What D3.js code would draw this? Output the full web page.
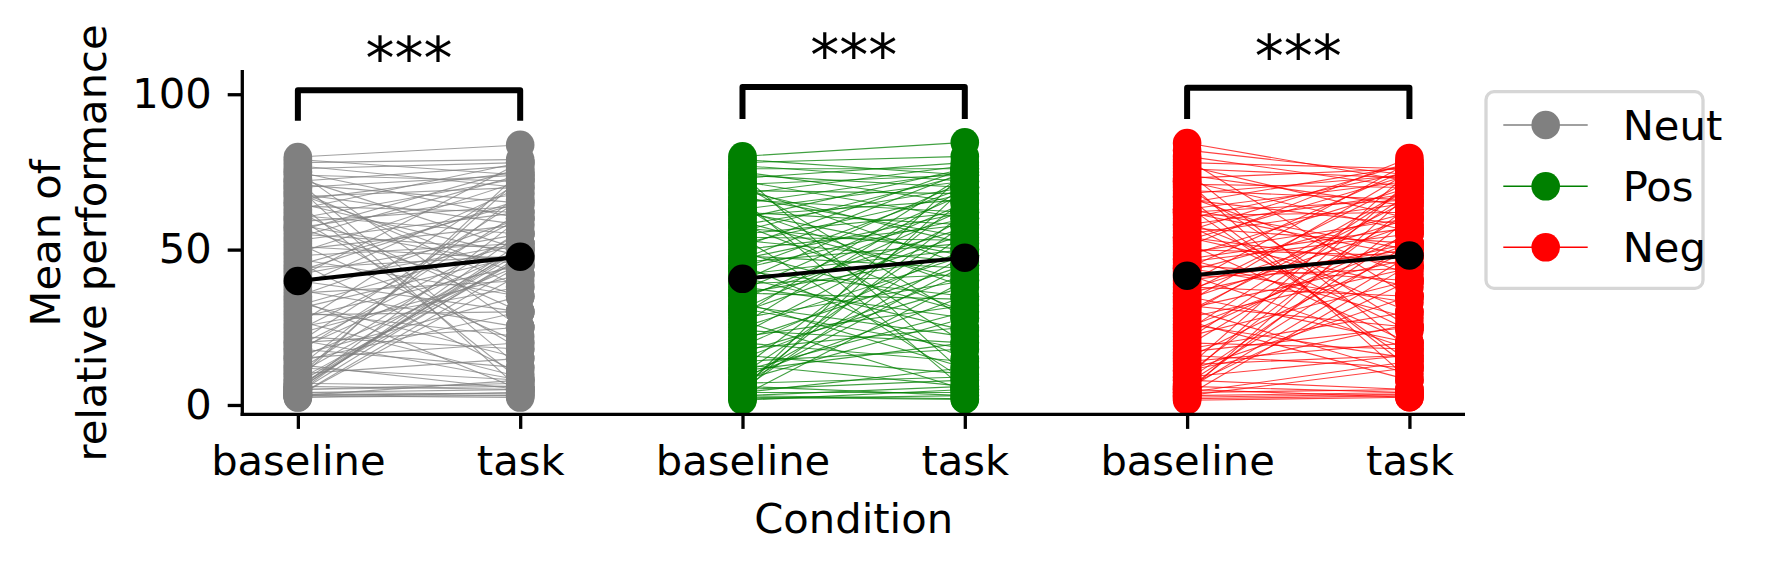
<!DOCTYPE html>
<html>
<head>
<meta charset="utf-8">
<script src="https://cdn.jsdelivr.net/npm/d3@7"></script>
<style>
  html, body { margin: 0; padding: 0; background: #fff; }
  svg { display: block; font-family: "DejaVu Sans", sans-serif; }
</style>
</head>
<body>
<svg id="chart" width="1766" height="570"></svg>
<script>
// ---------------- DATA ----------------
const groups = ["Neut", "Pos", "Neg"];
const conditionLabels = ["baseline", "task"];
const groupColors = ["#808080", "#008000", "#ff0000"];
const yTicks = [0, 50, 100];
const sigLabels = ["***", "***", "***"];

// group means (black markers)
const meanBaseline = [39.9, 40.6, 41.6];
const meanTask = [47.7, 47.4, 48.1];

// significance bracket levels
const bracketTop = [101.3, 102.3, 102.1];
const bracketBottom = [91.5, 92.0, 92.0];

// per-subject values [baseline, task]
const neutPairs = [
  [3,4],[3.5,3],[4,5],[2.5,3],[5,6],[4,3.5],[3,8],[6,5],[2.4,4],[5,7],[7,6],[3,2.4],
  [4,48],[5,52],[6,50],[3,45],[7,49],[5,51],[8,47],[4,55],[9,73],[6,47],[10,50],[5,60],[12,68],[3,42],[8,75],[11,56],
  [10,15],[12,8],[15,20],[14,30],[18,12],[20,25],[16,35],[22,18],[13,5],[25,38],
  [28,45],[30,22],[32,52],[35,60],[33,15],[36,40],[38,70],[40,30],[42,55],[44,48],[45,65],[46,10],[48,52],[47,35],[50,58],[49,72],[51,47],[52,20],[53,62],[55,50],
  [56,76],[58,45],[57,68],[60,73],[61,55],[62,30],[63,78],[64,62],[65,48],[66,75],[67,70],[68,58],[69,38],[70,74],[71,65],[72,77],[73,50],[74,72],[75,60],[76,78],[77,70],[78,79],[79,74],[79.8,83.7],[75,25],[72,12],[70,5],[68,42],[65,8],[60,18],
  [24,60],[26,72],[20,66],[18,50],[15,45],[27,9],[34,5],[37,25],[41,78],[43,66],[39,52],[31,48],[29,30],[23,42],[19,55],[17,62],[21,8],[54,74],[59,64],[57,35]
];
const posPairs = [
  [2,3],[3,2],[1.5,5],[4,4],[5,8],[3,6],[6,3],[2.5,1.8],[7,9],[4,12],
  [3,40],[5,55],[8,48],[6,62],[4,70],[9,35],[10,58],[7,45],[12,66],[5,75],[11,30],
  [14,18],[16,10],[18,25],[15,42],[20,14],[22,32],[13,6],[19,50],[17,38],[24,20],[26,70],[23,60],
  [28,40],[30,55],[32,22],[34,65],[36,48],[38,28],[40,72],[42,50],[43,35],[44,60],[45,15],[46,52],[47,75],[48,44],[50,58],[49,30],[52,68],[53,46],[54,8],[55,62],
  [56,74],[57,50],[58,70],[59,40],[60,76],[61,66],[62,58],[63,72],[64,20],[65,75],[66,62],[67,54],[68,77],[69,68],[70,45],[71,74],[72,60],[73,78],[74,70],[75,65],[76,76],[77,72],[78,80],[80,84.5],[79,74],[74,10],[71,28],[66,5],[63,38],[69,52],
  [25,48],[27,5],[29,74],[31,63],[33,12],[35,57],[37,68],[39,42],[41,24],[21,45],[11,20],[8,28],[51,76],[54,53],[58,30],[62,48],[47,62],[44,70],[36,34],[31,18]
];
const negPairs = [
  [2,3],[1.5,2.5],[3,4],[4,5],[2.5,3.5],[5,2.5],[6,4],[3,12],[8,5],[4,14],
  [3,45],[5,60],[7,52],[4,68],[9,72],[6,40],[8,56],[10,64],[12,75],[5,48],[11,35],
  [14,20],[16,12],[18,30],[15,50],[20,18],[22,40],[13,16],[19,62],[17,25],[24,70],[26,15],[23,55],
  [28,44],[30,66],[32,25],[34,58],[36,72],[38,35],[40,50],[42,18],[43,62],[44,76],[45,40],[46,55],[47,28],[48,70],[50,48],[49,60],[52,20],[53,74],[54,45],[55,65],
  [56,78],[57,52],[58,68],[59,30],[60,75],[61,62],[62,48],[63,72],[64,14],[65,77],[66,58],[67,42],[68,74],[69,66],[70,25],[71,70],[72,56],[73,76],[74,64],[75,18],[76,73],[77,60],[78,76],[80,70],[82,74],[84.3,72],[79,35],[72,8],[67,12],[63,50],
  [25,52],[27,8],[29,70],[31,47],[33,75],[35,20],[37,60],[39,78],[41,44],[21,68],[11,26],[9,16],[51,79.5],[54,38],[58,24],[62,66],[47,57],[44,33],[36,52],[31,10]
];
const groupPairs = [neutPairs, posPairs, negPairs];

// ---------------- LAYOUT ----------------
const svg = d3.select("#chart");
const FS = 41.67;
const x = d3.scaleLinear().domain([-0.25, 5.25]).range([242.3, 1465]);
const y = d3.scaleLinear().domain([-3.0, 107.8]).range([414.3, 70]);
const tickPositions = d3.range(6);
const tickText = tickPositions.map(i => conditionLabels[i % 2]);

// Subject lines
groupPairs.forEach((pairs, g) => {
  const xb = x(2 * g), xt = x(2 * g + 1);
  svg.append("g").selectAll("line").data(pairs).join("line")
    .attr("x1", xb).attr("x2", xt)
    .attr("y1", d => y(d[0])).attr("y2", d => y(d[1]))
    .attr("stroke", groupColors[g]).attr("stroke-opacity", 0.75)
    .attr("stroke-width", 1.1);
});
// Subject markers
groupPairs.forEach((pairs, g) => {
  const gg = svg.append("g").attr("fill", groupColors[g]);
  [0, 1].forEach(k => {
    gg.selectAll(null).data(pairs).join("circle")
      .attr("cx", x(2 * g + k)).attr("cy", d => y(d[k])).attr("r", 14.3);
  });
});

// Means
groups.forEach((name, g) => {
  svg.append("line")
    .attr("x1", x(2 * g)).attr("x2", x(2 * g + 1))
    .attr("y1", y(meanBaseline[g])).attr("y2", y(meanTask[g]))
    .attr("stroke", "#000").attr("stroke-width", 4);
  [[0, meanBaseline[g]], [1, meanTask[g]]].forEach(([k, v]) => {
    svg.append("circle").attr("cx", x(2 * g + k)).attr("cy", y(v)).attr("r", 14.3).attr("fill", "#000");
  });
});

// Brackets and stars
groups.forEach((name, g) => {
  const x0 = x(2 * g), x1 = x(2 * g + 1);
  svg.append("path")
    .attr("d", `M${x0},${y(bracketBottom[g])}L${x0},${y(bracketTop[g])}L${x1},${y(bracketTop[g])}L${x1},${y(bracketBottom[g])}`)
    .attr("fill", "none").attr("stroke", "#000").attr("stroke-width", 6)
    .attr("stroke-linejoin", "round");
  svg.append("text").attr("x", (x0 + x1) / 2).attr("y", y(bracketTop[g]) - 11)
    .attr("text-anchor", "middle").attr("font-size", 58).text(sigLabels[g]);
});

// Axes
const yAxis = d3.axisLeft(y).tickValues(yTicks).tickSize(14.6).tickPadding(16);
const gy = svg.append("g").attr("transform", `translate(${x.range()[0]},0)`).call(yAxis);
const xAxis = d3.axisBottom(x).tickValues(tickPositions).tickFormat((d, i) => tickText[i]).tickSize(14.6).tickPadding(16.5);
const gx = svg.append("g").attr("transform", `translate(0,${y.range()[0]})`).call(xAxis);
[gx, gy].forEach(a => {
  a.select(".domain").remove();
  a.selectAll(".tick line").attr("stroke", "#000").attr("stroke-width", 3.3);
  a.selectAll(".tick text").attr("font-size", FS).attr("font-family", "DejaVu Sans").attr("fill", "#000");
});
// spines
svg.append("line").attr("x1", x.range()[0]).attr("x2", x.range()[0]).attr("y1", y.range()[1]).attr("y2", y.range()[0] + 1.65)
  .attr("stroke", "#000").attr("stroke-width", 3.3);
svg.append("line").attr("x1", x.range()[0] - 1.65).attr("x2", x.range()[1]).attr("y1", y.range()[0]).attr("y2", y.range()[0])
  .attr("stroke", "#000").attr("stroke-width", 3.3);

// Axis labels
svg.append("text").attr("x", (x.range()[0] + x.range()[1]) / 2).attr("y", 533)
  .attr("text-anchor", "middle").attr("font-size", FS).text("Condition");
const yl = svg.append("text").attr("transform", `translate(0,243) rotate(-90)`)
  .attr("text-anchor", "middle").attr("font-size", FS);
yl.append("tspan").attr("x", 0).attr("y", 60).text("Mean of");
yl.append("tspan").attr("x", 0).attr("y", 106).text("relative performance");

// Legend
const lg = svg.append("g");
lg.append("rect").attr("x", 1486).attr("y", 91.7).attr("width", 217).attr("height", 196.6)
  .attr("rx", 8).attr("fill", "#fff").attr("stroke", "#d6d6d6").attr("stroke-width", 3.3);
const rowY = [125, 186.3, 247.3];
groups.forEach((name, g) => {
  lg.append("line").attr("x1", 1503.3).attr("x2", 1587.7).attr("y1", rowY[g]).attr("y2", rowY[g])
    .attr("stroke", groupColors[g]).attr("stroke-width", 1.4);
  lg.append("circle").attr("cx", 1545.7).attr("cy", rowY[g]).attr("r", 14.3).attr("fill", groupColors[g]);
  lg.append("text").attr("x", 1622.7).attr("y", rowY[g] + 15).attr("font-size", FS).text(name);
});
</script>
</body>
</html>
